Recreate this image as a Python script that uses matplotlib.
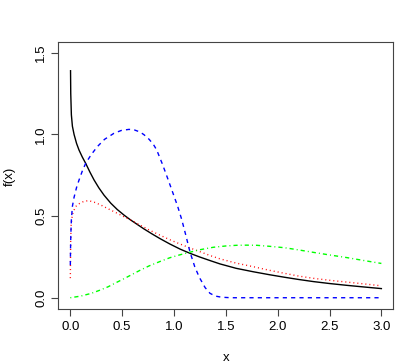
import matplotlib
matplotlib.use("Agg")
import matplotlib.pyplot as plt

# values
black_x = [0.002, 0.004, 0.01, 0.02, 0.036, 0.06, 0.084, 0.115, 0.148, 0.19,
           0.229, 0.275, 0.325, 0.39, 0.453, 0.52, 0.582, 0.65, 0.711, 0.79,
           0.865, 0.96, 1.058, 1.154, 1.25, 1.35, 1.444, 1.6, 1.765, 1.92,
           2.07, 2.2, 2.343, 2.5, 2.665, 2.83, 3.0]
black_y = [1.39, 1.25, 1.12, 1.05, 1.0, 0.945, 0.904, 0.862, 0.823, 0.768,
           0.721, 0.673, 0.628, 0.579, 0.54, 0.505, 0.476, 0.447, 0.421, 0.39,
           0.362, 0.329, 0.298, 0.272, 0.249, 0.227, 0.207, 0.18, 0.159, 0.141,
           0.125, 0.112, 0.099, 0.087, 0.076, 0.066, 0.056]

red_x = [0.0, 0.003, 0.008, 0.02, 0.036, 0.06, 0.1, 0.14, 0.18, 0.23,
         0.293, 0.37, 0.453, 0.53, 0.614, 0.672, 0.76, 0.865, 0.96, 1.058,
         1.154, 1.25, 1.35, 1.444, 1.6, 1.765, 1.92, 2.07, 2.2, 2.343,
         2.5, 2.665, 2.83, 3.0]
red_y = [0.12, 0.34, 0.45, 0.51, 0.537, 0.565, 0.582, 0.592, 0.594, 0.585,
         0.568, 0.543, 0.517, 0.492, 0.465, 0.445, 0.415, 0.383, 0.355, 0.329,
         0.305, 0.282, 0.258, 0.238, 0.212, 0.19, 0.168, 0.149, 0.133, 0.119,
         0.107, 0.096, 0.085, 0.073]

blue_x = [0.0, 0.002, 0.005, 0.01, 0.02, 0.036, 0.06, 0.084, 0.115, 0.148,
          0.2, 0.26, 0.33, 0.421, 0.49, 0.566, 0.62, 0.672, 0.711, 0.76,
          0.8, 0.833, 0.89, 0.945, 0.993, 1.035, 1.074, 1.115, 1.154, 1.2,
          1.244, 1.3, 1.347, 1.4, 1.46, 1.55, 3.0]
blue_y = [0.2, 0.3, 0.39, 0.476, 0.56, 0.615, 0.675, 0.721, 0.775, 0.823,
          0.875, 0.925, 0.97, 1.007, 1.024, 1.031, 1.027, 1.015, 0.998, 0.97,
          0.94, 0.905, 0.815, 0.72, 0.635, 0.56, 0.48, 0.38, 0.28, 0.19,
          0.125, 0.062, 0.027, 0.01, 0.003, 0.0, 0.0]

green_x = [0.0, 0.1, 0.203, 0.28, 0.364, 0.44, 0.525, 0.6, 0.672, 0.76,
           0.865, 0.96, 1.058, 1.154, 1.25, 1.379, 1.5, 1.6, 1.701, 1.8,
           1.92, 2.07, 2.2, 2.343, 2.5, 2.665, 2.83, 3.0]
green_y = [0.0, 0.01, 0.027, 0.045, 0.067, 0.092, 0.119, 0.144, 0.168, 0.195,
           0.222, 0.245, 0.263, 0.279, 0.294, 0.309, 0.317, 0.321, 0.322, 0.321,
           0.315, 0.306, 0.293, 0.278, 0.262, 0.246, 0.228, 0.21]

x_ticks = [0.0, 0.5, 1.0, 1.5, 2.0, 2.5, 3.0]
y_ticks = [0.0, 0.5, 1.0, 1.5]

plt.rcParams['font.family'] = ['Liberation Sans', 'DejaVu Sans']

fig = plt.figure(figsize=(4.15, 3.63), dpi=100)
ax = fig.add_axes([0.1405, 0.1474, 0.8072, 0.736])

ax.plot(black_x, black_y, color="black", lw=1.0, linestyle="-")
ax.plot(red_x, red_y, color="#FF0000", lw=1.0, linestyle=(0, (0.7, 2.2)))
ax.plot(blue_x, blue_y, color="#0000FF", lw=1.0, linestyle=(0, (3, 3)))
ax.plot(green_x, green_y, color="#00FF00", lw=1.0, linestyle=(0, (0.7, 2.2, 3, 2.2)))

ax.set_xlim(-0.116, 3.115)
ax.set_ylim(-0.072, 1.564)
ax.set_xticks(x_ticks)
ax.set_xticklabels(["%.1f" % v for v in x_ticks])
ax.set_yticks(y_ticks)
ax.set_yticklabels(["%.1f" % v for v in y_ticks], rotation=90, va="center")
ax.tick_params(direction="out", length=5, width=0.8, labelsize=9.5, pad=3,
               color="#444444")
for s in ax.spines.values():
    s.set_linewidth(0.8)
    s.set_color("#444444")

ax.set_xlabel("x", fontsize=9.5, labelpad=14)
ax.set_ylabel("f(x)", fontsize=9.5, labelpad=14)

fig.savefig("out.png", dpi=100)
